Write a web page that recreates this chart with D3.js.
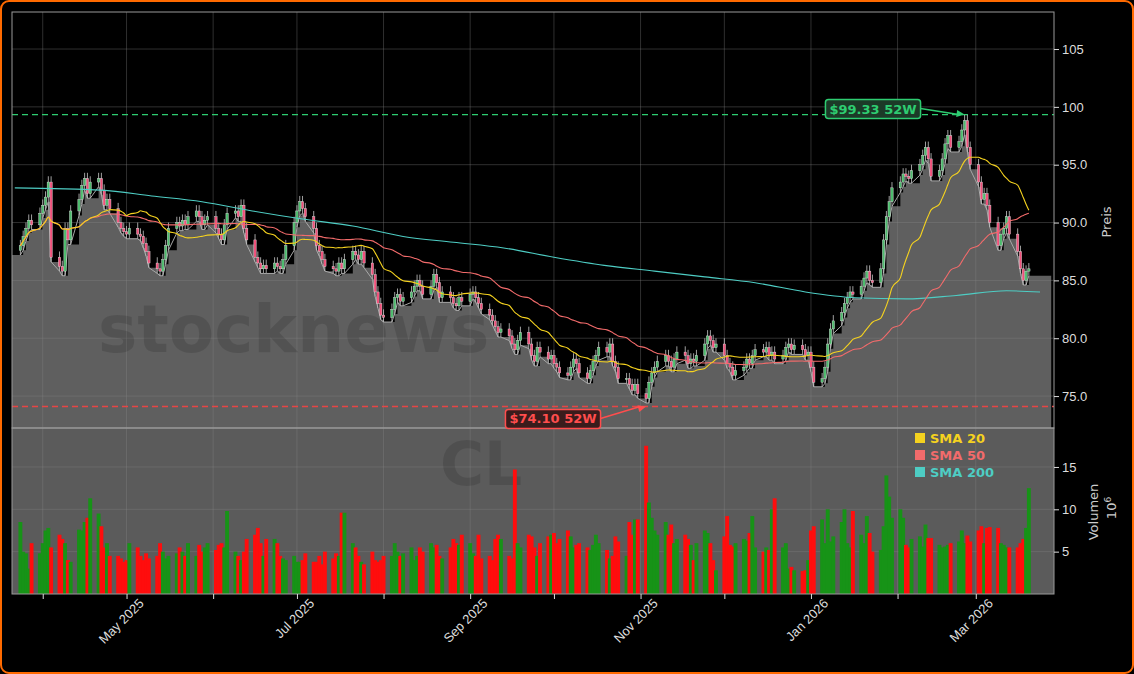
<!DOCTYPE html>
<html><head><meta charset="utf-8">
<script src="https://cdn.jsdelivr.net/npm/d3@7"></script>
<style>
html,body{margin:0;padding:0;background:#000;}
svg{display:block;font-family:"DejaVu Sans",sans-serif;}
</style></head>
<body>
<svg id="chart" width="1134" height="674"></svg>
<script>
// Tagesschlusskurse, Woche für Woche (Mo-Fr), ab 24.03.2025
var closes = [
 88.0,88.8,89.5,90.2,89.8, 90.8,91.5,92.2,93.5,87.0, 86.2,85.8,89.5,88.5,91.0,
 92.0,93.2,93.8,92.5,93.5, 93.8,92.8,91.5,92.0,91.2, 90.0,89.5,89.2,89.0,89.5,
 89.0,88.8,88.2,87.5,86.5, 86.0,85.8,86.8,88.0,89.5, 90.0,89.7,90.2,89.8,90.5,
 91.0,90.5,89.8,90.2,90.5, 89.5,89.0,88.5,89.8,90.8, 91.0,90.5,91.5,89.5,88.5,
 87.0,86.5,86.0,86.3,86.0, 86.5,86.2,86.0,86.8,88.0, 90.0,91.0,91.8,91.2,90.5,
 89.5,88.0,87.5,86.8,86.2, 86.0,85.8,86.5,86.0,86.8, 87.5,87.2,86.8,87.5,86.5,
 85.5,84.0,83.0,82.0,81.8, 82.5,83.5,83.8,83.2,83.5, 84.0,84.5,85.0,84.5,83.8,
 84.5,85.5,84.8,83.5,84.0, 83.5,83.0,82.8,83.5,83.2, 83.8,84.0,83.5,83.0,82.5,
 82.0,81.5,81.0,80.5,80.8, 80.2,79.5,79.0,79.8,80.5, 79.5,78.5,78.0,79.2,78.8,
 78.2,78.5,77.8,77.5,77.0, 76.8,77.5,78.2,77.8,77.0, 76.5,77.2,78.0,78.5,79.2,
 78.8,79.5,78.0,77.5,76.5, 76.5,76.0,75.5,76.0,75.2, 74.8,76.2,77.0,77.5,78.0,
 78.5,78.0,77.5,78.2,78.8, 78.5,77.8,78.2,78.0,78.5, 79.5,80.2,79.8,79.2,79.5,
 78.5,77.8,77.5,76.8,77.2, 77.5,78.2,77.8,78.5,79.0, 78.8,79.2,78.5,78.8,78.2,
 78.5,79.2,79.5,79.0,79.4, 79.0,78.5,78.8,77.5,76.2, 76.5,77.5,79.5,80.8,81.5,
 82.2,83.0,83.5,84.0,83.8, 84.5,85.2,85.8,85.0,84.8, 86.0,88.5,90.5,91.8,93.0,
 93.5,94.2,94.0,93.8,94.5, 95.0,95.8,96.5,95.5,94.0, 94.5,95.5,96.8,97.5,96.5,
 97.0,98.0,98.8,96.5,95.0, 93.5,92.0,92.5,91.5,90.0, 88.0,89.0,89.5,90.5,89.0,
 87.5,86.0,85.0,85.8,86.0
];
// Volumen in Mio.
var volumes = [
 8.5,5.0,4.8,3.0,6.0, 4.8,6.0,7.5,7.8,5.5, 7.0,6.5,6.0,4.0,3.8,
 7.6,7.5,8.5,9.0,11.3, 9.5,8.0,5.5,6.0,4.5, 4.5,4.2,3.8,4.0,6.0,
 5.5,4.5,4.0,4.8,4.2, 4.5,6.0,5.0,4.2,4.5, 4.8,5.5,5.0,4.5,6.0,
 4.5,5.8,5.0,5.5,6.0, 5.2,5.8,6.0,5.5,9.8, 5.0,4.5,4.0,5.0,6.5,
 7.0,7.8,6.0,4.5,6.5, 6.5,6.0,4.5,4.2,4.0, 4.5,3.8,3.8,4.0,4.8,
 3.8,3.8,4.5,3.5,5.0, 4.2,4.8,4.5,9.6,9.6, 6.0,5.5,4.5,3.8,3.5,
 5.0,4.0,3.8,4.0,4.5, 4.5,6.0,5.0,4.5,4.8, 5.5,4.0,4.5,5.5,5.0,
 6.0,5.5,5.8,4.5,4.2, 5.5,6.5,6.0,5.8,7.0, 6.0,4.8,4.5,7.0,4.2,
 4.5,4.0,6.5,7.0,6.5, 4.5,4.2,14.7,6.0,5.5, 7.0,6.8,5.5,4.5,6.0,
 6.8,7.0,7.2,6.0,6.5, 7.5,6.8,5.5,5.8,6.0, 5.5,5.2,5.8,7.0,6.0,
 5.2,4.2,4.5,6.8,6.2, 4.5,8.5,7.0,8.8,8.8, 17.5,10.8,9.0,7.5,7.0,
 8.5,7.0,8.2,6.0,6.5, 7.0,6.5,5.8,4.0,6.0, 7.5,7.2,6.0,4.0,2.8,
 6.8,9.2,5.8,5.6,6.0, 6.5,6.3,7.2,9.2,5.5, 5.0,5.5,5.2,10.0,11.3,
 5.5,6.0,3.0,3.2,2.8, 2.7,2.8,4.0,7.5,8.0, 8.8,6.0,10.0,6.2,6.8,
 8.5,10.0,6.0,5.5,9.8, 7.0,6.0,9.2,7.2,5.0, 5.2,8.0,14.0,11.5,9.0,
 10.0,9.0,5.8,5.5,6.5, 6.8,5.6,8.2,6.6,6.6, 5.8,5.5,5.6,5.8,6.0,
 6.2,7.5,6.0,6.9,6.2, 7.5,8.0,6.0,7.8,7.9, 7.8,6.0,5.8,5.5,5.5,
 5.5,6.0,6.5,7.8,12.5
];
// SMA 200
var sma200Dates = ["2025-03-22","2025-04-22","2025-05-10","2025-05-28","2025-06-15","2025-07-03","2025-07-21",
  "2025-08-08","2025-08-26","2025-09-13","2025-10-01","2025-10-19","2025-11-06","2025-11-24","2025-12-12",
  "2025-12-30","2026-01-17","2026-02-04","2026-02-22","2026-03-12","2026-03-24"];
var sma200Values = [93.0,92.8,92.3,91.8,91.0,90.3,89.7,88.8,88.3,87.8,87.0,86.3,85.8,85.3,84.8,84.0,83.5,83.4,83.7,84.1,84.0];
var priceTicks = [75,80,85,90,95,100,105];
var priceTickLabels = ["75.0","80.0","85.0","90.0","95.0","100","105"];
var volTicks = [5,10,15];
var high52 = 99.33, low52 = 74.10;

var parse = d3.timeParse("%Y-%m-%d");
// Handelstage
var dates = [];
var d = parse("2025-03-24");
while (dates.length < closes.length) {
  if (d.getDay() != 0 && d.getDay() != 6) dates.push(new Date(d));
  d = d3.timeDay.offset(d, 1);
}
var data = closes.map(function(c, i) {
  var o = i == 0 ? c - 0.4 : closes[i - 1];
  return {date: dates[i], open: o, close: c,
          high: Math.max(o, c) + 0.5, low: Math.min(o, c) - 0.4, vol: volumes[i]};
});
function sma(n) {
  return data.map(function(p, i) {
    var s = data.slice(Math.max(0, i - n + 1), i + 1);
    return {date: p.date, v: d3.mean(s, function(q) { return q.close; })};
  });
}

var svg = d3.select("#chart");
var L = 12, R = 1054, PT = 12, PB = 428, VB = 594;

var x = d3.scaleTime().domain([parse("2025-03-21"), parse("2026-03-29")]).range([L, R]);
var y = d3.scaleLinear().domain([72.24, 108.2]).range([PB, PT]);
var yv = d3.scaleLinear().domain([0, 19.6]).range([VB, PB]);

// Rahmen
svg.append("rect").attr("x", 1).attr("y", 1).attr("width", 1132).attr("height", 672)
  .attr("rx", 8).attr("fill", "#000").attr("stroke", "#ff6a00").attr("stroke-width", 2);

// Volumen-Panel
svg.append("rect").attr("x", L).attr("y", PB).attr("width", R - L).attr("height", VB - PB).attr("fill", "#5b5b5b");

// Preis-Fläche
var areaData = [{date: parse("2025-03-21"), low: data[0].low}].concat(data, [{date: parse("2026-03-28"), low: data[data.length - 1].close}]);
svg.append("path").datum(areaData)
  .attr("d", d3.area().x(function(p) { return x(p.date); }).y0(PB).y1(function(p) { return y(p.low); }).curve(d3.curveStepAfter))
  .attr("fill", "#5f5f5f");
svg.append("path").datum(data)
  .attr("d", d3.line().x(function(p) { return x(p.date); }).y(function(p) { return y(p.low); }))
  .attr("fill", "none").attr("stroke", "#a8a8a8").attr("stroke-width", 1);

// Raster
var months = d3.timeMonth.range(parse("2025-04-01"), parse("2026-04-01"));
[[PT, PB], [PB, VB]].forEach(function(r) {
  svg.append("g").selectAll("line").data(months).join("line")
    .attr("x1", function(m) { return x(m); }).attr("x2", function(m) { return x(m); })
    .attr("y1", r[0]).attr("y2", r[1]).attr("stroke", "#888").attr("stroke-opacity", 0.35);
});
svg.append("g").selectAll("line").data(priceTicks).join("line")
  .attr("x1", L).attr("x2", R).attr("y1", function(t) { return y(t); }).attr("y2", function(t) { return y(t); })
  .attr("stroke", "#888").attr("stroke-opacity", 0.35);
svg.append("g").selectAll("line").data(volTicks).join("line")
  .attr("x1", L).attr("x2", R).attr("y1", function(t) { return yv(t); }).attr("y2", function(t) { return yv(t); })
  .attr("stroke", "#888").attr("stroke-opacity", 0.35);

// Wasserzeichen
svg.append("text").attr("x", 98).attr("y", 352).attr("font-size", 66).attr("font-weight", "bold")
  .attr("fill", "#000").attr("fill-opacity", 0.13).text("stocknews");
svg.append("text").attr("x", 440).attr("y", 485).attr("font-size", 60).attr("font-weight", "bold")
  .attr("fill", "#000").attr("fill-opacity", 0.13).text("CL");

// 52W-Linien
svg.append("line").attr("x1", L).attr("x2", R).attr("y1", y(high52)).attr("y2", y(high52))
  .attr("stroke", "#2ecc71").attr("stroke-width", 1.3).attr("stroke-dasharray", "6,4");
svg.append("line").attr("x1", L).attr("x2", R).attr("y1", y(low52)).attr("y2", y(low52))
  .attr("stroke", "#e84545").attr("stroke-width", 1.3).attr("stroke-dasharray", "6,4");

// Volumenbalken
var bw = 3.9;
svg.append("g").selectAll("rect").data(data).join("rect")
  .attr("x", function(p) { return x(p.date) - bw / 2; }).attr("width", bw)
  .attr("y", function(p) { return yv(p.vol); }).attr("height", function(p) { return VB - yv(p.vol); })
  .attr("fill", function(p) { return p.close >= p.open ? "#179317" : "#ff0d0d"; });

// Kerzen
var cg = svg.append("g");
cg.selectAll("line").data(data).join("line")
  .attr("x1", function(p) { return x(p.date); }).attr("x2", function(p) { return x(p.date); })
  .attr("y1", function(p) { return y(p.high); }).attr("y2", function(p) { return y(p.low); })
  .attr("stroke", "#c8c8c8").attr("stroke-width", 0.8);
cg.selectAll("rect").data(data).join("rect")
  .attr("x", function(p) { return x(p.date) - 1.2; }).attr("width", 2.4)
  .attr("y", function(p) { return y(Math.max(p.open, p.close)); })
  .attr("height", function(p) { return Math.max(1, Math.abs(y(p.open) - y(p.close))); })
  .attr("fill", function(p) { return p.close >= p.open ? "#4cbb6c" : "#f0507a"; })
  .attr("stroke", "#e6e6e6").attr("stroke-width", 0.4);

// SMAs
var line = d3.line().x(function(p) { return x(p.date); }).y(function(p) { return y(p.v); }).curve(d3.curveMonotoneX);
svg.append("path").datum(sma200Dates.map(function(s, i) { return {date: parse(s), v: sma200Values[i]}; }))
  .attr("d", line).attr("fill", "none").attr("stroke", "#4ecdc4").attr("stroke-width", 1.1);
svg.append("path").datum(sma(50)).attr("d", line).attr("fill", "none").attr("stroke", "#f26b6b").attr("stroke-width", 1.1);
svg.append("path").datum(sma(20)).attr("d", line).attr("fill", "none").attr("stroke", "#f5d21f").attr("stroke-width", 1.1);

// Panel-Ränder
svg.append("rect").attr("x", L).attr("y", PT).attr("width", R - L).attr("height", PB - PT)
  .attr("fill", "none").attr("stroke", "#9a9a9a").attr("stroke-width", 1);
svg.append("rect").attr("x", L).attr("y", PB).attr("width", R - L).attr("height", VB - PB)
  .attr("fill", "none").attr("stroke", "#9a9a9a").attr("stroke-width", 1);

// Annotationen
function note(txt, bx, by, tx, ty, col, bg) {
  var g = svg.append("g");
  var t = g.append("text").attr("x", bx).attr("y", by + 5).attr("text-anchor", "middle")
    .attr("font-size", 13).attr("font-weight", "bold").attr("fill", col).text(txt);
  var bb = t.node().getBBox();
  g.insert("rect", "text").attr("x", bb.x - 4).attr("y", bb.y - 2).attr("width", bb.width + 8).attr("height", bb.height + 4)
    .attr("rx", 3).attr("fill", bg).attr("stroke", col).attr("stroke-width", 1.5);
  var sx = bb.x + bb.width + 4;
  g.append("line").attr("x1", sx).attr("y1", by).attr("x2", tx - 6).attr("y2", ty)
    .attr("stroke", col).attr("stroke-width", 1.5);
  var a = Math.atan2(ty - by, tx - sx);
  g.append("path").attr("d", "M0,0L-8,-3.5L-8,3.5Z").attr("fill", col)
    .attr("transform", "translate(" + tx + "," + ty + ") rotate(" + (a * 180 / Math.PI) + ")");
}
note("$99.33 52W", 873, y(high52) - 6, x(parse("2026-02-25")), y(high52), "#2ecc71", "#1c3a28");
note("$74.10 52W", 553, y(low52) + 12, x(parse("2025-11-03")), y(low52), "#ff4d4d", "#3a1c1c");

// Achsen
var ax = svg.append("g").attr("transform", "translate(0," + VB + ")")
  .call(d3.axisBottom(x).tickValues(months).tickSize(5)
    .tickFormat(function(m) { return m.getMonth() % 2 == 0 ? d3.timeFormat("%b %Y")(m) : ""; }));
ax.select(".domain").remove();
ax.selectAll("line").attr("stroke", "#ddd");
ax.selectAll("text").attr("fill", "#ddd").attr("font-size", 13).attr("text-anchor", "end")
  .attr("dx", "0.4em").attr("dy", "0.9em").attr("transform", "rotate(-45)");

var ay = svg.append("g").attr("transform", "translate(" + R + ",0)")
  .call(d3.axisRight(y).tickValues(priceTicks).tickSize(5).tickFormat(function(t, i) { return priceTickLabels[i]; }));
ay.select(".domain").remove();
ay.selectAll("line").attr("stroke", "#ddd");
ay.selectAll("text").attr("fill", "#ddd").attr("font-size", 13);

var avx = svg.append("g").attr("transform", "translate(" + R + ",0)")
  .call(d3.axisRight(yv).tickValues(volTicks).tickSize(5));
avx.select(".domain").remove();
avx.selectAll("line").attr("stroke", "#ddd");
avx.selectAll("text").attr("fill", "#ddd").attr("font-size", 13);

svg.append("text").attr("transform", "translate(1111,222) rotate(-90)").attr("text-anchor", "middle")
  .attr("fill", "#ccc").attr("font-size", 13).text("Preis");
svg.append("text").attr("transform", "translate(1098,512) rotate(-90)").attr("text-anchor", "middle")
  .attr("fill", "#ccc").attr("font-size", 13).text("Volumen");
var e = svg.append("text").attr("transform", "translate(1116,508) rotate(-90)").attr("text-anchor", "middle")
  .attr("fill", "#ccc").attr("font-size", 13);
e.append("tspan").text("10");
e.append("tspan").attr("font-size", 9).attr("dy", -5).text("6");

// Legende
var legend = [["SMA 20", "#f5d21f"], ["SMA 50", "#f26b6b"], ["SMA 200", "#4ecdc4"]];
var lg = svg.append("g").selectAll("g").data(legend).join("g")
  .attr("transform", function(l, i) { return "translate(915," + (438 + i * 17) + ")"; });
lg.append("rect").attr("x", 0).attr("y", -5).attr("width", 10).attr("height", 10).attr("fill", function(l) { return l[1]; });
lg.append("text").attr("x", 15).attr("y", 5).attr("font-size", 13).attr("font-weight", "bold")
  .attr("fill", function(l) { return l[1]; }).text(function(l) { return l[0]; });
</script>
</body></html>
